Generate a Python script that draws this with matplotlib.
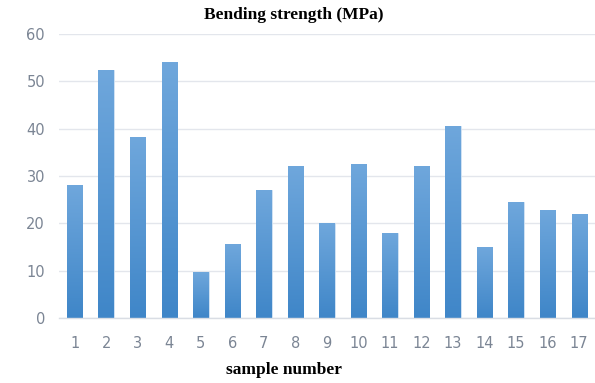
import numpy as np
import matplotlib
matplotlib.use("Agg")
import matplotlib.pyplot as plt
from matplotlib.colors import LinearSegmentedColormap

# sample numbers and bending strength (MPa)
samples = [str(i) for i in range(1, 18)]
strength = [28.1, 52.4, 38.2, 54.1, 9.8, 15.6, 27.0, 32.1, 20.0,
            32.5, 18.0, 32.1, 40.6, 14.9, 24.4, 22.9, 21.9]
yticks = [0, 10, 20, 30, 40, 50, 60]

fig = plt.figure(figsize=(5.95, 3.83), dpi=100)
ax = fig.add_axes([0.099, 0.170, 0.901, 0.741])

x = np.arange(len(samples))
bars = ax.bar(x, strength, width=0.49, color="#5b9bd5", edgecolor="#d6e6f5",
              linewidth=0.6, zorder=2)

# gradient fill: lighter at top, darker at bottom
cmap = LinearSegmentedColormap.from_list("bluegrad", ["#3f86c8", "#6fa7dc"])
grad = np.linspace(0, 1, 256).reshape(-1, 1)
for b in bars:
    bx, bw, bh = b.get_x(), b.get_width(), b.get_height()
    im = ax.imshow(grad, cmap=cmap, origin="lower", aspect="auto",
                   extent=[bx, bx + bw, 0, bh], zorder=2.5)
    im.set_clip_path(b)

ax.set_xlim(-0.5, len(samples) - 0.5)
ax.set_ylim(0, 60)
ax.set_yticks(yticks)
ax.set_xticks(x)
ax.set_xticklabels(samples)

ax.grid(axis="y", color="#e3e6ec", linewidth=1.0, zorder=0)
for s in ["top", "right", "left"]:
    ax.spines[s].set_visible(False)
ax.spines["bottom"].set_color("#d9dde4")
ax.spines["bottom"].set_linewidth(1.0)
ax.tick_params(axis="both", length=0, labelsize=10.5, labelcolor="#7b8594")
ax.tick_params(axis="y", pad=10)
ax.tick_params(axis="x", pad=13)

fig.text(0.493, 0.960, "Bending strength (MPa)", ha="center", va="center",
         family="Liberation Serif", fontweight="bold", fontsize=12.5)
fig.text(0.477, 0.034, "sample number", ha="center", va="center",
         family="Liberation Serif", fontweight="bold", fontsize=12.5)

fig.savefig("out.png", dpi=100)
